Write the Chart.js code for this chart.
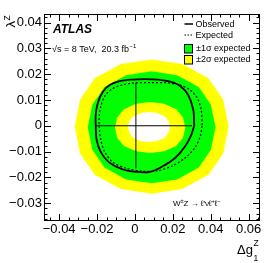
<!DOCTYPE html>
<html>
<head>
<meta charset="utf-8">
<script src="https://cdn.jsdelivr.net/npm/chart.js@4.4.0/dist/chart.umd.min.js"></script>
<style>
html, body { margin: 0; padding: 0; background: #fff; }
canvas { display: block; }
</style>
</head>
<body>
<canvas id="myChart" width="274" height="263"></canvas>
<script>
// tick labels
var xTickValues = [-0.04, -0.02, 0, 0.02, 0.04, 0.06];
var yTickValues = [-0.03, -0.02, -0.01, 0, 0.01, 0.02, 0.03, 0.04];

// observed 95% CL contour
var observedX = [0.0313, 0.0308, 0.0281, 0.0239, 0.0186, 0.0122, 0.0053, -0.0016, -0.0080, -0.0133, -0.0170, -0.0196, -0.0207, -0.0207, -0.0202, -0.0180, -0.0138, -0.0069, 0.0005, 0.0080, 0.0149, 0.0212, 0.0265, 0.0297];
var observedY = [0.0001, 0.0061, 0.0119, 0.0154, 0.0171, 0.0179, 0.0181, 0.0179, 0.0173, 0.0158, 0.0131, 0.0088, 0.0041, -0.0001, -0.0055, -0.0102, -0.0141, -0.0168, -0.0179, -0.0179, -0.0156, -0.0125, -0.0079, -0.0036];

// expected contour
var expectedX = [0.0355, 0.0350, 0.0329, 0.0292, 0.0239, 0.0170, 0.0080, 0.0000, -0.0069, -0.0122, -0.0159, -0.0180, -0.0188, -0.0188, -0.0180, -0.0159, -0.0117, -0.0048, 0.0037, 0.0122, 0.0196, 0.0265, 0.0318, 0.0345];
var expectedY = [0.0003, 0.0061, 0.0107, 0.0138, 0.0158, 0.0166, 0.0167, 0.0166, 0.0158, 0.0142, 0.0115, 0.0076, 0.0038, -0.0009, -0.0055, -0.0102, -0.0141, -0.0164, -0.0176, -0.0174, -0.0156, -0.0125, -0.0083, -0.0040];

// +-2 sigma band, outer edge
var twoSigOuterX = [0.0494, 0.0466, 0.0388, 0.0250, 0.0088, -0.0074, -0.0212, -0.0290, -0.0318, -0.0290, -0.0212, -0.0074, 0.0088, 0.0250, 0.0388, 0.0466];
var twoSigOuterY = [-0.0003, 0.0101, 0.0184, 0.0239, 0.0257, 0.0239, 0.0184, 0.0101, -0.0003, -0.0107, -0.0190, -0.0245, -0.0263, -0.0245, -0.0190, -0.0107];

// +-1 sigma band, outer edge
var oneSigOuterX = [0.0425, 0.0401, 0.0337, 0.0223, 0.0088, -0.0047, -0.0161, -0.0225, -0.0249, -0.0225, -0.0161, -0.0047, 0.0088, 0.0223, 0.0337, 0.0401];
var oneSigOuterY = [-0.0006, 0.0081, 0.0150, 0.0196, 0.0211, 0.0196, 0.0150, 0.0081, -0.0006, -0.0093, -0.0162, -0.0208, -0.0223, -0.0208, -0.0162, -0.0093];

// +-1 sigma band, inner edge
var oneSigInnerX = [0.0266, 0.0253, 0.0218, 0.0154, 0.0080, 0.0006, -0.0058, -0.0093, -0.0106, -0.0093, -0.0058, 0.0006, 0.0080, 0.0154, 0.0218, 0.0253];
var oneSigInnerY = [-0.0007, 0.0033, 0.0064, 0.0085, 0.0092, 0.0085, 0.0064, 0.0033, -0.0007, -0.0047, -0.0078, -0.0099, -0.0106, -0.0099, -0.0078, -0.0047];

// +-2 sigma band, inner edge
var twoSigInnerX = [0.0185, 0.0177, 0.0156, 0.0118, 0.0074, 0.0030, -0.0008, -0.0029, -0.0037, -0.0029, -0.0008, 0.0030, 0.0074, 0.0118, 0.0156, 0.0177];
var twoSigInnerY = [-0.0005, 0.0018, 0.0037, 0.0049, 0.0053, 0.0049, 0.0037, 0.0018, -0.0005, -0.0028, -0.0047, -0.0059, -0.0063, -0.0059, -0.0047, -0.0028];

// one-dimensional limits (cross)
var limitG1 = [-0.0203, 0.0301];
var limitLambda = [-0.0165, 0.0167];
var crossX = 0.0005;

var FONT = '"Liberation Sans", Arial, Helvetica, sans-serif';

function closedShape(xs, ys) {
    var pts = xs.map(function(v, i) { return {x: v, y: ys[i]}; });
    pts.push({x: xs[0], y: ys[0]});
    return pts;
}

var frame = {
    id: 'frame',
    afterDatasetsDraw(chart) {
        var ctx = chart.ctx;
        var a = chart.chartArea;
        var sx = chart.scales.x, sy = chart.scales.y;
        ctx.save();
        ctx.strokeStyle = '#000';
        ctx.lineWidth = 1;
        ctx.strokeRect(a.left + 0.5, a.top + 0.5, a.right - a.left - 1, a.bottom - a.top - 1);
        ctx.beginPath();
        for (var i = -9; i <= 13; i++) {
            var v = i * 0.005;
            var px = Math.round(sx.getPixelForValue(v)) + 0.5;
            var len = (i % 4 === 0) ? 7 : 3.5;
            ctx.moveTo(px, a.bottom); ctx.lineTo(px, a.bottom - len);
            ctx.moveTo(px, a.top); ctx.lineTo(px, a.top + len);
        }
        for (var j = -18; j <= 21; j++) {
            var w = j * 0.002;
            var py = Math.round(sy.getPixelForValue(w)) + 0.5;
            var l2 = (j % 5 === 0) ? 7 : 3.5;
            ctx.moveTo(a.left, py); ctx.lineTo(a.left + l2, py);
            ctx.moveTo(a.right, py); ctx.lineTo(a.right - l2, py);
        }
        ctx.stroke();
        ctx.restore();
    },
    afterDraw(chart) {
        var ctx = chart.ctx;
        ctx.save();
        ctx.fillStyle = '#000';
        ctx.textBaseline = 'alphabetic';

        // ATLAS label
        ctx.font = 'italic bold 12px ' + FONT;
        ctx.fillText('ATLAS', 53, 33);

        ctx.font = '9px ' + FONT;
        var t = '\u221As = 8 TeV,  20.3 fb';
        ctx.fillText(t, 52, 52);
        var tw = ctx.measureText(t).width;
        ctx.font = '6px ' + FONT;
        ctx.fillText('\u22121', 52 + tw + 0.5, 48);

        // process
        var x0 = 173, yb = 206;
        ctx.font = '8px ' + FONT;
        ctx.fillText('W', x0, yb); x0 += ctx.measureText('W').width;
        ctx.font = '5.5px ' + FONT;
        ctx.fillText('\u00B1', x0, yb - 3.5); x0 += ctx.measureText('\u00B1').width;
        ctx.font = '8px ' + FONT;
        var s2 = 'Z \u2192 \u2113\u2032\u03BD\u2113';
        ctx.fillText(s2, x0, yb); x0 += ctx.measureText(s2).width;
        ctx.font = '5.5px ' + FONT;
        ctx.fillText('+', x0, yb - 3.5); x0 += ctx.measureText('+').width;
        ctx.font = '8px ' + FONT;
        ctx.fillText('\u2113', x0, yb); x0 += ctx.measureText('\u2113').width;
        ctx.font = '5.5px ' + FONT;
        ctx.fillText('\u2212', x0, yb - 3.5);

        // legend
        ctx.font = '9px ' + FONT;
        ctx.textBaseline = 'middle';
        ctx.strokeStyle = '#000';
        ctx.lineWidth = 1.5;
        ctx.beginPath(); ctx.moveTo(184.5, 24); ctx.lineTo(193, 24); ctx.stroke();
        ctx.fillText('Observed', 195.5, 24.5);
        ctx.lineWidth = 1.2;
        ctx.setLineDash([1.5, 1.5]);
        ctx.beginPath(); ctx.moveTo(184.5, 35); ctx.lineTo(193, 35); ctx.stroke();
        ctx.setLineDash([]);
        ctx.fillText('Expected', 195.5, 35.5);
        ctx.lineWidth = 1;
        ctx.fillStyle = '#00ff00';
        ctx.fillRect(184.5, 44.5, 8, 8.5);
        ctx.strokeRect(184.5, 44.5, 8, 8.5);
        ctx.fillStyle = '#ffff00';
        ctx.fillRect(184.5, 55.5, 8, 8.5);
        ctx.strokeRect(184.5, 55.5, 8, 8.5);
        ctx.fillStyle = '#000';
        ctx.fillText('\u00B11\u03C3 expected', 196, 49);
        ctx.fillText('\u00B12\u03C3 expected', 196, 60);

        // axis titles
        ctx.textBaseline = 'alphabetic';
        ctx.font = '13px ' + FONT;
        ctx.fillText('\u0394g', 237, 254);
        var dw = ctx.measureText('\u0394g').width;
        ctx.font = '8.5px ' + FONT;
        ctx.fillText('Z', 237 + dw + 0.5, 246);
        ctx.fillText('1', 237 + dw + 0.5, 261);

        ctx.translate(15, 27.5);
        ctx.rotate(-Math.PI / 2);
        ctx.font = '13px ' + FONT;
        ctx.fillText('\u03BB', 0, 0);
        var lw = ctx.measureText('\u03BB').width;
        ctx.font = '8.5px ' + FONT;
        ctx.fillText('Z', lw + 0.5, -5);
        ctx.restore();
    }
};

function tickFormat(v) {
    if (Math.abs(v) < 1e-9) return '0';
    return v.toFixed(2).replace('-', '\u2212');
}

var ctxC = document.getElementById('myChart').getContext('2d');
var chart = new Chart(ctxC, {
    type: 'scatter',
    data: {
        datasets: [{
            // observed
            data: closedShape(observedX, observedY),
            showLine: true, borderColor: '#000', borderWidth: 1.8,
            pointRadius: 0, tension: 0.3, fill: false, order: 1
        }, {
            // expected
            data: closedShape(expectedX, expectedY),
            showLine: true, borderColor: '#000', borderWidth: 1.2, borderDash: [2, 2],
            pointRadius: 0, tension: 0.3, fill: false, order: 2
        }, {
            // horizontal 1D limit
            data: [{x: limitG1[0], y: 0}, {x: limitG1[1], y: 0}],
            showLine: true, borderColor: '#000', borderWidth: 1,
            pointRadius: 0, fill: false, order: 3
        }, {
            // vertical 1D limit
            data: [{x: crossX, y: limitLambda[0]}, {x: crossX, y: limitLambda[1]}],
            showLine: true, borderColor: '#000', borderWidth: 1,
            pointRadius: 0, fill: false, order: 4
        }, {
            data: closedShape(twoSigInnerX, twoSigInnerY),
            showLine: true, borderWidth: 0, borderColor: 'rgba(0,0,0,0)', backgroundColor: '#ffffff',
            pointRadius: 0, tension: 0, fill: 'shape', order: 5
        }, {
            data: closedShape(oneSigInnerX, oneSigInnerY),
            showLine: true, borderWidth: 0, borderColor: 'rgba(0,0,0,0)', backgroundColor: '#ffff00',
            pointRadius: 0, tension: 0, fill: 'shape', order: 6
        }, {
            data: closedShape(oneSigOuterX, oneSigOuterY),
            showLine: true, borderWidth: 0, borderColor: 'rgba(0,0,0,0)', backgroundColor: '#00ff00',
            pointRadius: 0, tension: 0, fill: 'shape', order: 7
        }, {
            data: closedShape(twoSigOuterX, twoSigOuterY),
            showLine: true, borderWidth: 0, borderColor: 'rgba(0,0,0,0)', backgroundColor: '#ffff00',
            pointRadius: 0, tension: 0, fill: 'shape', order: 8
        }]
    },
    options: {
        responsive: false,
        animation: false,
        devicePixelRatio: 1,
        layout: { padding: { top: 14, right: 14, left: 0, bottom: 0 } },
        plugins: { legend: { display: false }, tooltip: { enabled: false } },
        scales: {
            x: {
                type: 'linear', min: -0.048, max: 0.066,
                grid: { display: false, drawTicks: false }, border: { display: false },
                afterBuildTicks: function(s) { s.ticks = xTickValues.map(function(v) { return {value: v}; }); },
                afterFit: function(s) { s.height = 42; },
                ticks: { callback: tickFormat, color: '#000', font: { family: FONT, size: 13 }, padding: 1, maxRotation: 0, autoSkip: false }
            },
            y: {
                type: 'linear', min: -0.0369, max: 0.0433,
                grid: { display: false, drawTicks: false }, border: { display: false },
                afterBuildTicks: function(s) { s.ticks = yTickValues.map(function(v) { return {value: v}; }); },
                afterFit: function(s) { s.width = 44; },
                ticks: { callback: tickFormat, color: '#000', font: { family: FONT, size: 13 }, padding: 2, autoSkip: false }
            }
        }
    },
    plugins: [frame]
});
</script>
</body>
</html>
